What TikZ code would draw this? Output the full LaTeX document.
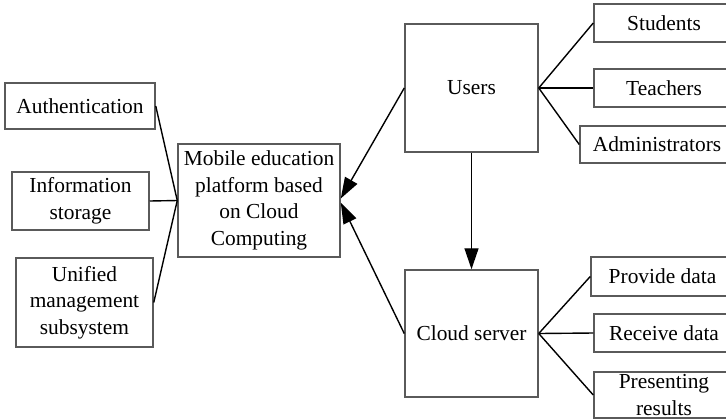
\documentclass[tikz,border=0pt]{standalone}
\usepackage{fontspec}
\setmainfont{Liberation Serif}
\usepackage{xcolor}
\usetikzlibrary{positioning,arrows.meta}
\definecolor{boxline}{HTML}{5A5A5A}

\begin{document}
\begin{tikzpicture}[
    x=0.5pt, y=-0.5pt,
    box/.style={draw=boxline, line width=0.75pt, inner sep=0pt, align=center, font=\fontsize{10.7pt}{13.3pt}\selectfont},
    link/.style={line width=0.7pt, draw=black},
    arr/.style={-{Triangle[length=10.5pt, width=7pt]}, line width=0.7pt, draw=black}
]
    \clip (0,0) rectangle (726,418);

    % platform and its parts
    \node[box, minimum width=81pt, minimum height=56.5pt] (mobile) at (259,200.5) {Mobile education\\platform based\\on Cloud\\Computing};
    \node[box, minimum width=75pt, minimum height=23pt] (auth) at (80,106) {Authentication};
    \node[box, minimum width=68.5pt, minimum height=29pt] (info) at (80.5,201) {Information\\storage};
    \node[box, minimum width=68.5pt, minimum height=44.5pt] (unified) at (84.5,302.5) {Unified\\management\\subsystem};

    % users and cloud server
    \node[box, minimum width=66.5pt, minimum height=64pt] (users) at (471.5,88) {Users};
    \node[box, minimum width=66.5pt, minimum height=63.5pt] (cloud) at (471.5,333.5) {Cloud server};

    \node[box, minimum width=70pt, minimum height=19pt] (students) at (664,23) {Students};
    \node[box, minimum width=70pt, minimum height=19pt] (teachers) at (664,88) {Teachers};
    \node[box, minimum width=77pt, minimum height=18.5pt] (admins) at (657,144.5) {Administrators};

    \node[box, minimum width=71.5pt, minimum height=19.5pt] (provide) at (662.5,276.5) {Provide data};
    \node[box, minimum width=70pt, minimum height=19pt] (receive) at (664,333) {Receive data};
    \node[box, minimum width=70pt, minimum height=23pt] (present) at (664,395) {Presenting\\results};

    \draw[link] (auth.east) -- (mobile.west);
    \draw[link] (info.east) -- (mobile.west);
    \draw[link] (unified.east) -- (mobile.west);

    \draw[link] (users.east) -- (students.west);
    \draw[link] (users.east) -- (teachers.west);
    \draw[link] (users.east) -- (admins.west);

    \draw[link] (cloud.east) -- (provide.west);
    \draw[link] (cloud.east) -- (receive.west);
    \draw[link] (cloud.east) -- (present.west);

    \draw[arr] (users.west) -- ([yshift=1pt]mobile.east);
    \draw[arr] (cloud.west) -- ([yshift=-1pt]mobile.east);
    \draw[arr] (users.south) -- (cloud.north);
\end{tikzpicture}
\end{document}
